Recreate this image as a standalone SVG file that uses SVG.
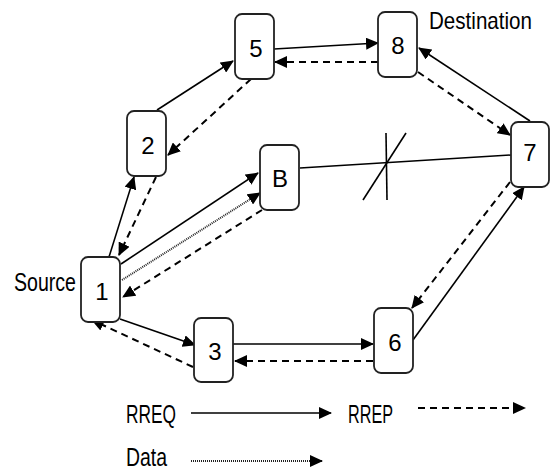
<svg xmlns="http://www.w3.org/2000/svg" width="550" height="471" viewBox="0 0 550 471">
<style>
.node rect{fill:#fff;stroke:#222;stroke-width:1.8}
text{font-family:"Liberation Sans",Arial,sans-serif;fill:#000}
.num{font-size:24px;text-anchor:middle}
.lbl{font-size:24px}
.s{fill:none;stroke:#000;stroke-width:1.6}
.d{fill:none;stroke:#000;stroke-width:2;stroke-dasharray:7 5}
.o{fill:none;stroke:#222;stroke-width:2;stroke-dasharray:1 1}
.a{marker-end:url(#ah)}
</style>
<defs>
<marker id="ah" markerUnits="userSpaceOnUse" markerWidth="13" markerHeight="12" refX="12" refY="6" orient="auto">
<path d="M0,0 L13,6 L0,12 Z" fill="#000"/>
</marker>
</defs>
<g id="connectors">
<line class="s a" x1="109" y1="257" x2="134" y2="177"/>
<line class="d a" x1="156" y1="177" x2="119" y2="255"/>
<line class="s a" x1="157" y1="110" x2="233" y2="61"/>
<line class="d a" x1="251" y1="79" x2="168" y2="155"/>
<line class="s a" x1="274" y1="49" x2="378" y2="43"/>
<line class="d a" x1="378" y1="62" x2="275" y2="62"/>
<line class="s a" x1="530" y1="121" x2="419" y2="48"/>
<line class="d a" x1="418" y1="72" x2="510" y2="135"/>
<line class="s" x1="300" y1="168" x2="511" y2="155"/>
<line class="s" x1="386" y1="133" x2="387" y2="200"/>
<line class="s" x1="363" y1="200" x2="406" y2="133"/>
<line class="s a" x1="413" y1="340" x2="524" y2="187"/>
<line class="d a" x1="510" y1="182" x2="412" y2="308"/>
<line class="s a" x1="121" y1="264" x2="258" y2="173"/>
<line class="o a" x1="122" y1="280" x2="260" y2="193"/>
<line class="d a" x1="262" y1="210" x2="123" y2="297"/>
<line class="s a" x1="120" y1="319" x2="195" y2="345"/>
<line class="d a" x1="193" y1="367" x2="92" y2="320"/>
<line class="s a" x1="233" y1="344" x2="373" y2="344"/>
<line class="d a" x1="373" y1="361" x2="235" y2="361"/>
<line class="s a" x1="191" y1="413" x2="331" y2="413"/>
<line class="d a" x1="418" y1="408" x2="525" y2="408"/>
<line class="o a" x1="191" y1="461" x2="322" y2="461"/>
</g>
<g id="node-5" class="node"><rect x="235" y="14" width="39" height="65" rx="7"/><text class="num" x="256" y="57">5</text></g>
<g id="node-8" class="node"><rect x="378" y="12" width="39" height="65" rx="7"/><text class="num" x="398" y="54">8</text></g>
<g id="node-2" class="node"><rect x="127" y="111" width="39" height="65" rx="7"/><text class="num" x="148" y="154">2</text></g>
<g id="node-7" class="node"><rect x="511" y="122" width="38" height="65" rx="7"/><text class="num" x="530" y="161">7</text></g>
<g id="node-B" class="node"><rect x="260" y="145" width="39" height="65" rx="7"/><text class="num" x="280" y="187">B</text></g>
<g id="node-1" class="node"><rect x="81" y="257" width="39" height="65" rx="7"/><text class="num" x="102" y="300">1</text></g>
<g id="node-3" class="node"><rect x="194" y="318" width="39" height="64" rx="7"/><text class="num" x="215" y="360">3</text></g>
<g id="node-6" class="node"><rect x="374" y="308" width="39" height="65" rx="7"/><text class="num" x="395" y="351">6</text></g>
<g id="labels">
<text class="lbl" x="429" y="29" textLength="103" lengthAdjust="spacingAndGlyphs">Destination</text>
<text class="lbl" x="14" y="291" style="font-size:25px" textLength="62" lengthAdjust="spacingAndGlyphs">Source</text>
<text class="lbl" x="126" y="423" style="font-size:25px" textLength="50" lengthAdjust="spacingAndGlyphs">RREQ</text>
<text class="lbl" x="348" y="423" style="font-size:25px" textLength="45" lengthAdjust="spacingAndGlyphs">RREP</text>
<text class="lbl" x="126" y="466" style="font-size:25px" textLength="41" lengthAdjust="spacingAndGlyphs">Data</text>
</g>
</svg>
